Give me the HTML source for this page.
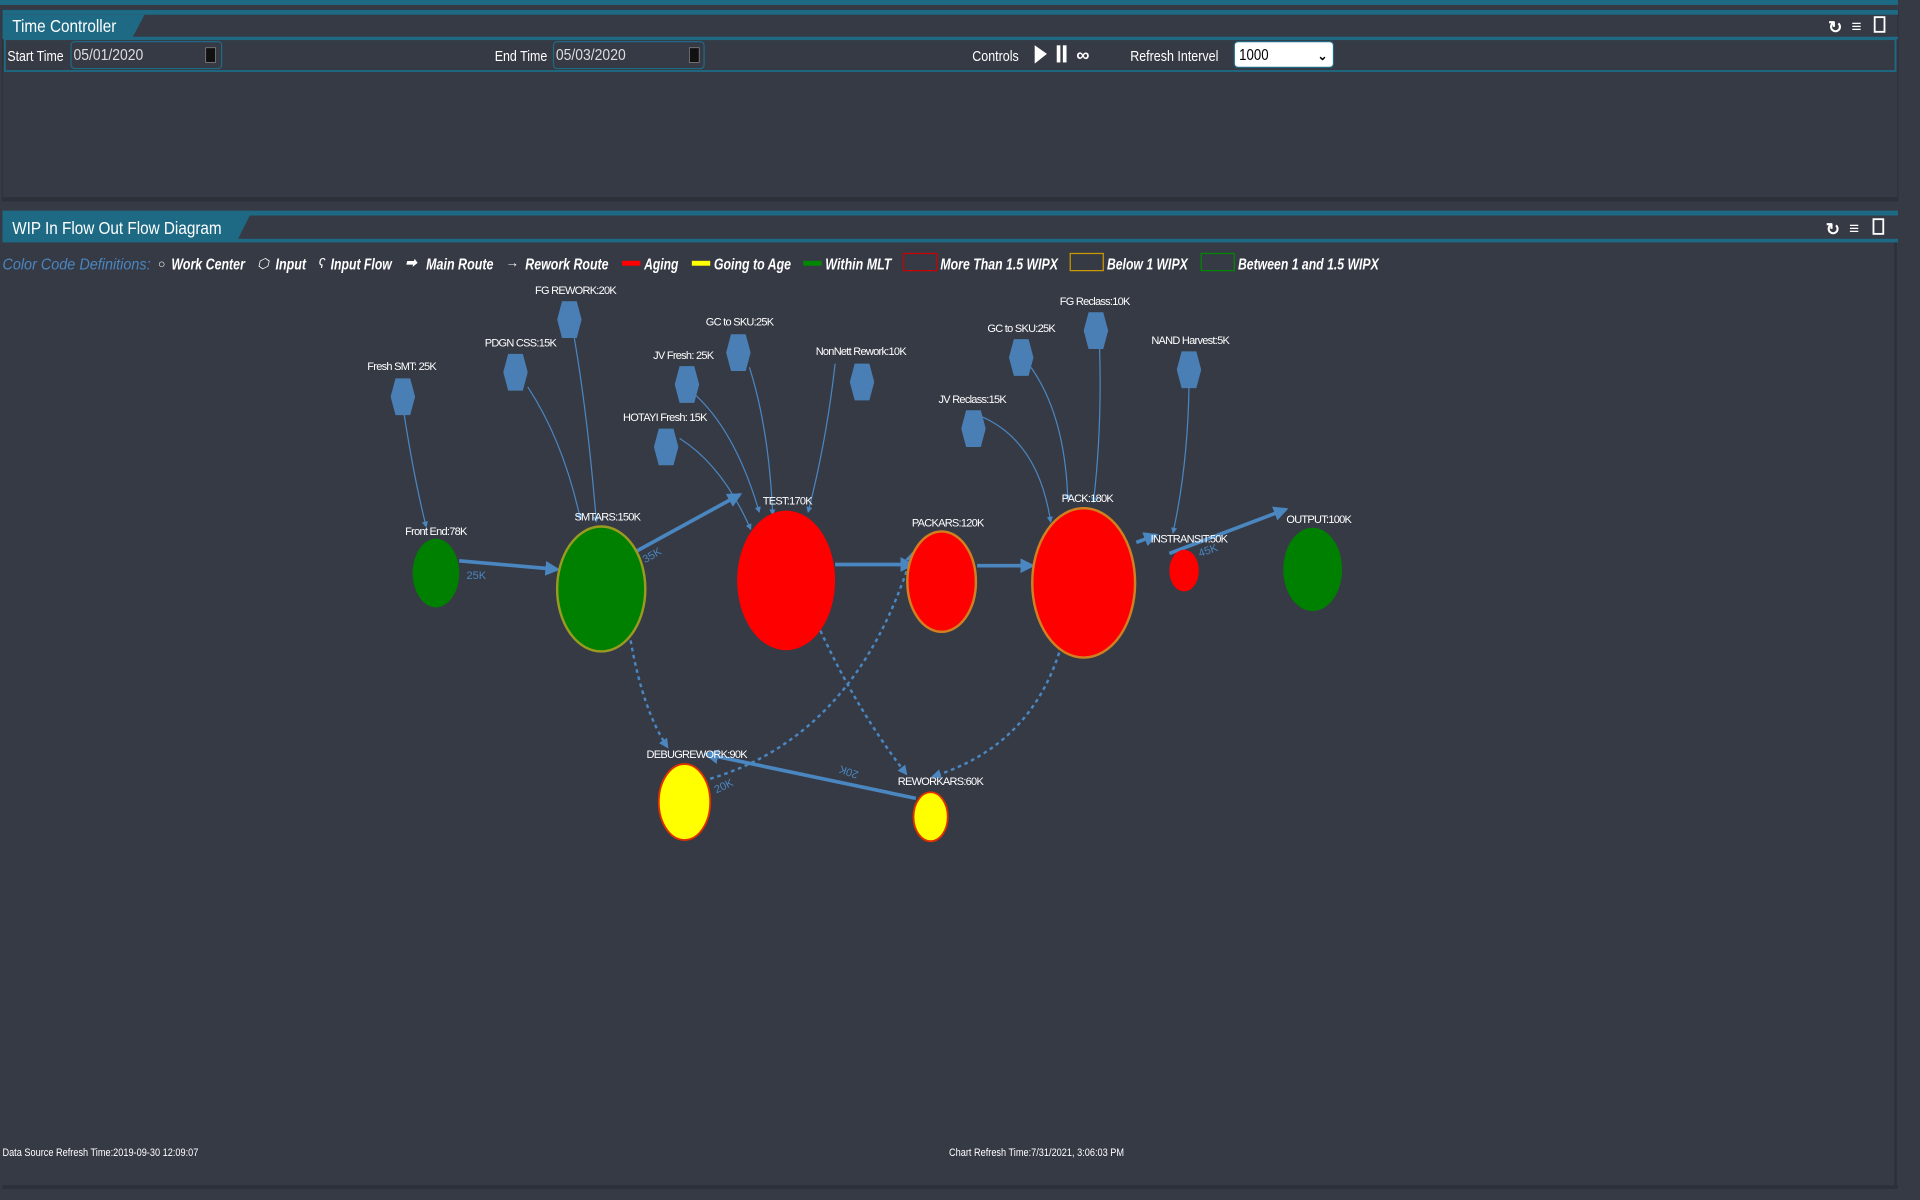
<!DOCTYPE html>
<html><head><meta charset="utf-8"><style>
html,body{margin:0;padding:0;background:#363a45;width:1920px;height:1200px;overflow:hidden}
svg{display:block}
text{font-family:"Liberation Sans",sans-serif}
</style></head><body>
<svg width="1920" height="1200" viewBox="0 0 1568 980" xmlns="http://www.w3.org/2000/svg">
<defs>
<marker id="ar" viewBox="0 0 10 10" refX="8" refY="5" markerWidth="5" markerHeight="5" orient="auto"><path d="M0,0L10,5L0,10z" fill="#4a86c0"/></marker>
<marker id="ar2" viewBox="0 0 10 10" refX="8" refY="5" markerWidth="4" markerHeight="4" orient="auto"><path d="M0,0L10,5L0,10z" fill="#4a86c0"/></marker>
<symbol id="hx" viewBox="-10 -16 20 32"><path d="M-6,-15L6,-15L10,0L6,15L-6,15L-10,0z" fill="#4a7fb5"/></symbol>
</defs>
<rect width="1568" height="980" fill="#363a45"/>
<rect x="0" y="0" width="1550" height="4" fill="#1e6a85"/>
<!-- panel 1 -->
<rect x="2" y="8" width="1548" height="156" fill="#363a45" stroke="#2e323b"/>
<rect x="2" y="8" width="1548" height="4" fill="#1e6a85"/>
<path d="M2,12L118,12L108,31L2,31z" fill="#1e6a85"/>
<rect x="2" y="30" width="1548" height="2" fill="#1e6a85"/>
<rect x="4" y="32" width="1544" height="26" fill="none" stroke="#1e6a85" stroke-width="1.5"/>
<rect x="2" y="161" width="1548" height="3" fill="#2c3038"/>
<text x="10" y="26" font-size="14" fill="#fff" textLength="85" lengthAdjust="spacingAndGlyphs">Time Controller</text>
<text x="6" y="50" font-size="12" fill="#fff" font-family="Liberation Serif" textLength="46" lengthAdjust="spacingAndGlyphs">Start Time</text>
<rect x="58" y="34" width="123" height="22" rx="3" fill="#363a45" stroke="#1e6a85"/>
<text x="60" y="49" font-size="13" fill="#ddd" textLength="57" lengthAdjust="spacingAndGlyphs">05/01/2020</text>
<rect x="168" y="39" width="8" height="12" fill="#111" stroke="#888" stroke-width=".6"/>
<text x="404" y="50" font-size="12" fill="#fff" font-family="Liberation Serif" textLength="43" lengthAdjust="spacingAndGlyphs">End Time</text>
<rect x="452" y="34" width="123" height="22" rx="3" fill="#363a45" stroke="#1e6a85"/>
<text x="454" y="49" font-size="13" fill="#ddd" textLength="57" lengthAdjust="spacingAndGlyphs">05/03/2020</text>
<rect x="563" y="39" width="8" height="12" fill="#111" stroke="#888" stroke-width=".6"/>
<text x="794" y="50" font-size="12" fill="#fff" font-family="Liberation Serif" textLength="38" lengthAdjust="spacingAndGlyphs">Controls</text>
<path d="M845,37L855,44L845,52z" fill="#fff"/>
<rect x="863" y="37" width="3" height="14" fill="#fff"/><rect x="868" y="37" width="3" height="14" fill="#fff"/>
<text x="879" y="50" font-size="15" font-weight="bold" fill="#fff">∞</text>
<text x="923" y="50" font-size="12" fill="#fff" font-family="Liberation Serif" textLength="72" lengthAdjust="spacingAndGlyphs">Refresh Intervel</text>
<rect x="1008" y="34" width="81" height="21" rx="3" fill="#fff" stroke="#1e6a85"/>
<text x="1012" y="49" font-size="13" fill="#000" textLength="24" lengthAdjust="spacingAndGlyphs">1000</text>
<text x="1076" y="49" font-size="10" font-weight="bold" fill="#000">⌄</text>
<text x="1493" y="27" font-size="14" fill="#fff" font-weight="bold">↻</text>
<text x="1512" y="26" font-size="14" fill="#fff">≡</text>
<rect x="1531" y="14" width="8" height="12" fill="none" stroke="#fff" stroke-width="1.5"/>
<!-- panel 2 -->
<rect x="2" y="172" width="1548" height="798" fill="#363a45"/>
<rect x="2" y="172" width="1548" height="4" fill="#1e6a85"/>
<path d="M2,176L204,176L194,196L2,196z" fill="#1e6a85"/>
<rect x="2" y="195" width="1548" height="3" fill="#1e6a85"/>
<rect x="1547" y="198" width="2" height="772" fill="#2c3038"/>
<rect x="2" y="968" width="1548" height="3" fill="#2c3038"/>
<text x="10" y="191" font-size="14" fill="#fff" textLength="171" lengthAdjust="spacingAndGlyphs">WIP In Flow Out Flow Diagram</text>
<text x="1491" y="192" font-size="14" fill="#fff" font-weight="bold">↻</text>
<text x="1510" y="191" font-size="14" fill="#fff">≡</text>
<rect x="1530" y="179" width="8" height="12" fill="none" stroke="#fff" stroke-width="1.5"/>
<g font-size="13" font-style="italic" fill="#fff" font-weight="bold" lengthAdjust="spacingAndGlyphs">
<text x="2" y="220" fill="#4a86c0" font-weight="normal" textLength="121" lengthAdjust="spacingAndGlyphs">Color Code Definitions:</text>
<text x="129" y="219" font-weight="normal" font-size="10">○</text><text x="140" y="220" textLength="60" lengthAdjust="spacingAndGlyphs">Work Center</text>
<text x="210" y="219" font-weight="normal" font-size="11">⬡</text><text x="225" y="220" textLength="25" lengthAdjust="spacingAndGlyphs">Input</text>
<text x="260" y="219" font-weight="normal" font-size="11">ʕ</text><text x="270" y="220" textLength="50" lengthAdjust="spacingAndGlyphs">Input Flow</text>
<text x="331" y="218" font-size="11">➡</text><text x="348" y="220" textLength="55" lengthAdjust="spacingAndGlyphs">Main Route</text>
<text x="413" y="218" font-weight="normal" font-size="11">→</text><text x="429" y="220" textLength="68" lengthAdjust="spacingAndGlyphs">Rework Route</text>
<rect x="508" y="213" width="15" height="4" fill="#f00"/><text x="526" y="220" textLength="28" lengthAdjust="spacingAndGlyphs">Aging</text>
<rect x="565" y="213" width="15" height="4" fill="#ff0"/><text x="583" y="220" textLength="63" lengthAdjust="spacingAndGlyphs">Going to Age</text>
<rect x="656" y="213" width="15" height="4" fill="#080"/><text x="674" y="220" textLength="54" lengthAdjust="spacingAndGlyphs">Within MLT</text>
<rect x="738" y="207" width="27" height="14" fill="none" stroke="#c00"/><text x="768" y="220" textLength="96" lengthAdjust="spacingAndGlyphs">More Than 1.5 WIPX</text>
<rect x="874" y="207" width="27" height="14" fill="none" stroke="#c90"/><text x="904" y="220" textLength="66" lengthAdjust="spacingAndGlyphs">Below 1 WIPX</text>
<rect x="981" y="207" width="27" height="14" fill="none" stroke="#080"/><text x="1011" y="220" textLength="115" lengthAdjust="spacingAndGlyphs">Between 1 and 1.5 WIPX</text>
</g>
<!-- input flows -->
<g fill="none" stroke="#4a86c0" stroke-width="1" marker-end="url(#ar)">
<path d="M330,338 Q338,390 348,430"/>
<path d="M431,316 Q460,360 474,424"/>
<path d="M469,276 Q480,340 487,426"/>
<path d="M565,320 Q600,350 620,418"/>
<path d="M612,300 Q628,350 631,420"/>
<path d="M555,358 Q590,380 613,432"/>
<path d="M682,297 Q675,360 660,418"/>
<path d="M801,340 Q848,360 858,426"/>
<path d="M842,300 Q870,340 872,408"/>
<path d="M898,285 Q900,350 893,410"/>
<path d="M971,316 Q970,380 958,435"/>
</g>
<!-- main routes -->
<g fill="none" stroke="#4a86c0" stroke-width="3" marker-end="url(#ar2)">
<line x1="375" y1="458" x2="455" y2="465"/>
<line x1="520" y1="450" x2="604" y2="404"/>
<line x1="682" y1="461" x2="745" y2="461"/>
<line x1="798" y1="462" x2="843" y2="462"/>
<line x1="928" y1="443" x2="944" y2="437"/>
<line x1="955" y1="452" x2="1050" y2="416"/>
<line x1="748" y1="652" x2="577" y2="616"/>
</g>
<g fill="none" stroke="#4a86c0" stroke-width="2" stroke-dasharray="3,3" marker-end="url(#ar2)">
<path d="M515,523 Q525,580 545,610"/>
<path d="M670,515 Q700,580 740,632"/>
<path d="M865,533 Q840,610 762,634"/>
<path d="M580,636 Q700,600 745,452"/>
</g>
<g font-size="9" fill="#4a86c0">
<text x="381" y="473">25K</text><text x="527" y="460" transform="rotate(-30 527 460)">35K</text>
<text x="585" y="648" transform="rotate(-25 585 648)">20K</text><text x="688" y="628" transform="rotate(200 695 628)">20K</text>
<text x="980" y="455" transform="rotate(-20 980 455)">45K</text>
</g>
<!-- nodes -->
<ellipse cx="356" cy="468" rx="19" ry="28" fill="#008000"/>
<ellipse cx="491" cy="481" rx="36" ry="51" fill="#008000" stroke="#9a9a20" stroke-width="2"/>
<ellipse cx="642" cy="474" rx="40" ry="57" fill="#f00"/>
<ellipse cx="769" cy="475" rx="28" ry="41" fill="#f00" stroke="#d08020" stroke-width="2"/>
<ellipse cx="885" cy="476" rx="42" ry="61" fill="#f00" stroke="#d08020" stroke-width="2"/>
<ellipse cx="967" cy="466" rx="12" ry="17" fill="#f00"/>
<ellipse cx="1072" cy="465" rx="24" ry="34" fill="#008000"/>
<ellipse cx="559" cy="655" rx="21" ry="31" fill="#ff0" stroke="#e03000" stroke-width="1.5"/>
<ellipse cx="760" cy="667" rx="14" ry="20" fill="#ff0" stroke="#e03000" stroke-width="1.5"/>
<!-- hexagons -->
<g>
<use href="#hx" x="319" y="308" width="20" height="32"/>
<use href="#hx" x="411" y="288" width="20" height="32"/>
<use href="#hx" x="455" y="245" width="20" height="32"/>
<use href="#hx" x="551" y="298" width="20" height="32"/>
<use href="#hx" x="593" y="272" width="20" height="32"/>
<use href="#hx" x="534" y="349" width="20" height="32"/>
<use href="#hx" x="694" y="296" width="20" height="32"/>
<use href="#hx" x="785" y="334" width="20" height="32"/>
<use href="#hx" x="824" y="276" width="20" height="32"/>
<use href="#hx" x="885" y="254" width="20" height="32"/>
<use href="#hx" x="961" y="286" width="20" height="32"/>
</g>
<g font-size="9" fill="#fff" text-anchor="middle" letter-spacing="-0.6">
<text x="328" y="302">Fresh SMT: 25K</text><text x="425" y="283">PDGN CSS:15K</text>
<text x="470" y="240">FG REWORK:20K</text><text x="558" y="293">JV Fresh: 25K</text>
<text x="604" y="266">GC to SKU:25K</text><text x="543" y="344">HOTAYI Fresh: 15K</text>
<text x="703" y="290">NonNett Rework:10K</text><text x="794" y="329">JV Reclass:15K</text>
<text x="834" y="271">GC to SKU:25K</text><text x="894" y="249">FG Reclass:10K</text>
<text x="972" y="281">NAND Harvest:5K</text>
<text x="356" y="437">Front End:78K</text><text x="496" y="425">SMTARS:150K</text>
<text x="643" y="412">TEST:170K</text><text x="774" y="430">PACKARS:120K</text>
<text x="888" y="410">PACK:180K</text><text x="971" y="443">INSTRANSIT:50K</text>
<text x="1077" y="427">OUTPUT:100K</text><text x="569" y="619">DEBUGREWORK:90K</text>
<text x="768" y="641">REWORKARS:60K</text>
</g>
<g font-size="9" fill="#fff">
<text x="2" y="944" textLength="160" lengthAdjust="spacingAndGlyphs">Data Source Refresh Time:2019-09-30 12:09:07</text>
<text x="775" y="944" textLength="143" lengthAdjust="spacingAndGlyphs">Chart Refresh Time:7/31/2021, 3:06:03 PM</text>
</g>
</svg>
</body></html>
